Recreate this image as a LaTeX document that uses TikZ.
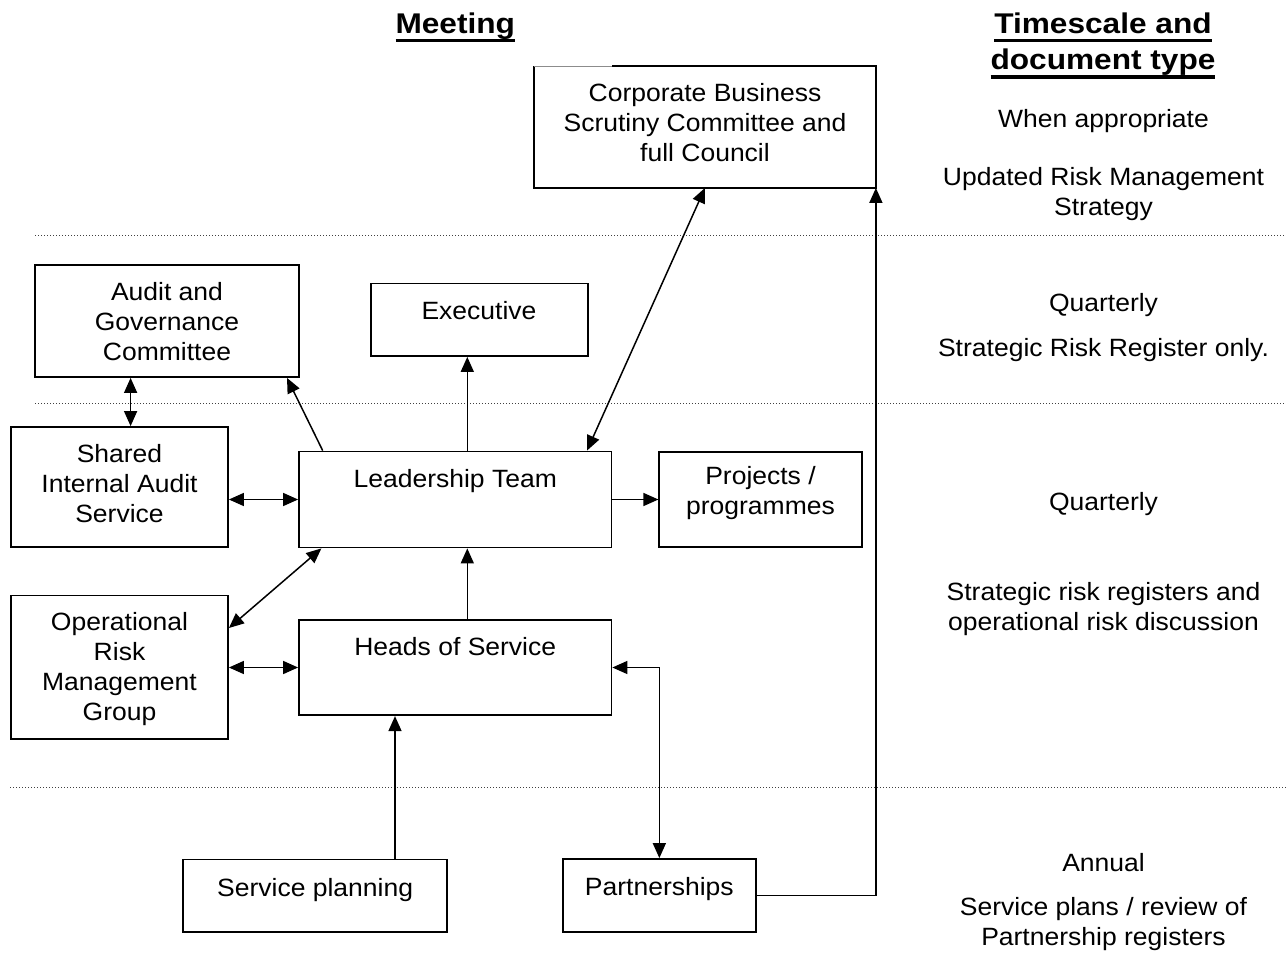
\documentclass[tikz,border=0pt]{standalone}
\usepackage{fontspec}
\setmainfont{Liberation Sans}[FakeStretch=1.06]
\newfontfamily\headfont{Liberation Sans}[FakeStretch=1.11]
\usetikzlibrary{arrows.meta}
\newcommand\hdul[1]{\setbox0\hbox{#1}\rlap{\rule[-8.7pt]{\wd0}{3.4pt}}\box0}
\begin{document}
\begin{tikzpicture}[x=1pt,y=-1pt,
  boxnode/.style={draw, line width=1.8pt, inner sep=0pt, fill=white},
  txt/.style={inner sep=0pt, align=center, font=\fontsize{25}{30}\selectfont,
    execute at begin node=\strut, execute at end node=\strut},
  head/.style={inner sep=0pt, align=center, font=\headfont\bfseries\fontsize{28.5}{36.7}\selectfont},
  conn/.style={line width=1.5pt, -{Triangle[length=15pt,width=13pt]}},
  biconn/.style={line width=1.5pt, {Triangle[length=15pt,width=13pt]}-{Triangle[length=15pt,width=13pt]}},
  sep/.style={line width=1pt, black!75, dash pattern=on 1pt off 2pt}]
\fill[white] (0,0) rectangle (1286,954);
\useasboundingbox (0,0) rectangle (1286,954);

% separators
\draw[sep] (35,235) -- (1286,235);
\draw[sep] (35,403) -- (1286,403);
\draw[sep] (10,787) -- (1286,787);

% headings
\node[head, anchor=base] (meet) at (455.3,33.3) {\hdul{Meeting}};
\node[head] (tsdt) at (1103,44.3) {\strut\hdul{Timescale and}\\\hdul{document type}\strut};

% boxes
\node[boxnode, draw=none, minimum width=340pt, minimum height=120pt] (corp) at (705,127) {};
\node[boxnode, minimum width=264pt, minimum height=112pt] (audit) at (167,321) {};
\node[boxnode, minimum width=217pt, minimum height=72.5pt] (exec) at (479.5,319.75) {};
\node[boxnode, minimum width=217pt, minimum height=120pt] (shared) at (119.5,487) {};
\node[boxnode, minimum width=312.5pt, minimum height=96pt] (lead) at (455.25,499.5) {};
\node[boxnode, minimum width=202.4pt, minimum height=95.6pt] (proj) at (760.5,499.5) {};
\node[boxnode, minimum width=217pt, minimum height=143.8pt] (oper) at (119.5,667.3) {};
\node[boxnode, minimum width=312.5pt, minimum height=95.4pt] (heads) at (455.25,667.5) {};
\node[boxnode, minimum width=264.3pt, minimum height=72.4pt] (splan) at (315.15,895.6) {};
\node[boxnode, minimum width=192.7pt, minimum height=72.7pt] (partn) at (659.35,895.35) {};

% corporate box outline (top-left part of top edge is faint)
\coordinate (cg) at (612,0);
\draw[line width=1.8pt] (corp.north -| cg) -- (corp.north east) -- (corp.south east) -- (corp.south west) -- (corp.north west);
\draw[line width=0.7pt, black!45] (corp.north west) -- (corp.north -| cg);

% box texts
\node[txt] (corpt) at (705,126.6) {Corporate Business\\Scrutiny Committee and\\full Council};
\node[txt] (auditt) at (167,325.7) {Audit and\\Governance\\Committee};
\node[txt] (exect) at (479,313) {Executive};
\node[txt] (sharedt) at (119.5,487.8) {Shared\\Internal Audit\\Service};
\node[txt] (leadt) at (455.25,481.4) {Leadership Team};
\node[txt] (projt) at (760.5,495.4) {Projects /\\programmes};
\node[txt] (opert) at (119.5,671) {Operational\\Risk\\Management\\Group};
\node[txt] (headst) at (455.25,649.3) {Heads of Service};
\node[txt] (splant) at (315.15,890) {Service planning};
\node[txt] (partnt) at (659.35,889.7) {Partnerships};

% right column
\node[txt] (r1) at (1103.5,121.3) {When appropriate};
\node[txt] (r2) at (1103.5,196.2) {Updated Risk Management\\Strategy};
\node[txt] (r3) at (1103.5,305) {Quarterly};
\node[txt] (r4) at (1103.5,350) {Strategic Risk Register only.};
\node[txt] (r5) at (1103.5,504.2) {Quarterly};
\node[txt] (r6) at (1103.5,610.7) {Strategic risk registers and\\operational risk discussion};
\node[txt] (r7) at (1103.5,865) {Annual};
\node[txt] (r8) at (1103.5,926) {Service plans / review of\\Partnership registers};

% connector helper coordinates
\coordinate (xa) at (130.6,0);
\coordinate (xb) at (322.7,0);
\coordinate (xc) at (287,0);
\coordinate (xd) at (467.3,0);
\coordinate (xe) at (587,0);
\coordinate (xf) at (321.4,0);
\coordinate (yf) at (0,628);
\coordinate (xg) at (395,0);

% connectors
\draw[biconn] (audit.south -| xa) -- (shared.north -| xa);
\draw[conn] (lead.north -| xb) -- (audit.south -| xc);
\draw[conn] (lead.north -| xd) -- (exec.south -| xd);
\draw[biconn] (lead.north -| xe) -- (corp.south);
\draw[biconn] (shared.east |- lead.west) -- (lead.west);
\draw[conn] (lead.east) -- (proj.west);
\draw[biconn] (lead.south -| xf) -- (oper.east |- yf);
\draw[conn] (heads.north -| xd) -- (lead.south -| xd);
\draw[biconn] (oper.east |- heads.west) -- (heads.west);
\draw[conn] (splan.north -| xg) -- (heads.south -| xg);
\draw[biconn] (heads.east) -- (partn.north |- heads.east) -- (partn.north);
\draw[conn] (partn.east) -- (corp.south east |- partn.east) -- (corp.south east);
\end{tikzpicture}
\end{document}
